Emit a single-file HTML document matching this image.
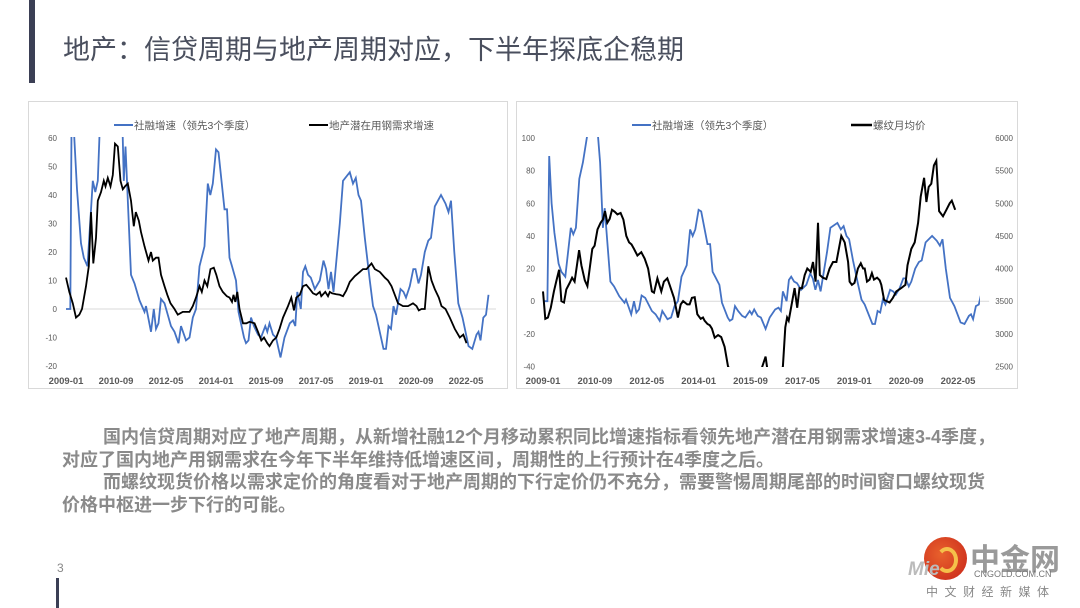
<!DOCTYPE html>
<html><head><meta charset="utf-8">
<style>
body{margin:0;width:1080px;height:608px;background:#fff;position:relative;overflow:hidden;font-family:"Liberation Sans","Noto Sans CJK SC",sans-serif;}
.abs{position:absolute;white-space:nowrap;}
.para{position:absolute;left:62px;font-size:18px;font-weight:bold;color:#8a8a8a;white-space:nowrap;line-height:22.5px;font-family:"Liberation Sans","Noto Sans CJK SC",sans-serif;}
</style></head><body>
<div class="abs" style="left:29px;top:0;width:6px;height:83px;background:#3b3f55"></div>
<div class="abs" style="left:63px;top:28px;font-size:27px;color:#4a4f5e;white-space:nowrap">地产：信贷周期与地产周期对应，下半年探底企稳期</div>

<svg class="abs" style="left:0;top:0" width="1080" height="400">
<defs>
<clipPath id="c1"><rect x="40" y="137" width="460" height="230"/></clipPath>
<clipPath id="c2"><rect x="530" y="137" width="450" height="230"/></clipPath>
</defs>
<rect x="28.5" y="101.5" width="479" height="287" fill="#fff" stroke="#d9d9d9"/>
<rect x="516.5" y="101.5" width="501" height="287" fill="#fff" stroke="#d9d9d9"/>
<g id="g1"></g><g id="g2"></g>
</svg>

<div class="para" style="top:426px">
<div style="padding-left:41px">国内信贷周期对应了地产周期，从新增社融12个月移动累积同比增速指标看领先地产潜在用钢需求增速3-4季度，</div>
<div>对应了国内地产用钢需求在今年下半年维持低增速区间，周期性的上行预计在4季度之后。</div>
<div style="padding-left:41px">而螺纹现货价格以需求定价的角度看对于地产周期的下行定价仍不充分，需要警惕周期尾部的时间窗口螺纹现货</div>
<div>价格中枢进一步下行的可能。</div>
</div>

<div class="abs" style="left:57px;top:561px;font-size:12px;color:#888">3</div>
<div class="abs" style="left:56px;top:578px;width:3px;height:30px;background:#3b3f55"></div>

<div class="abs" style="left:920px;top:537px;width:155px;height:68px">
 <div class="abs" style="left:4px;top:0;width:43px;height:43px;border-radius:50%;background:radial-gradient(circle at 40% 40%,#e8612c,#c8251a)"></div>
 <div class="abs" style="left:16px;top:10px;width:14px;height:18px;border-radius:50%;border:4px solid #f5c04a;border-left-color:transparent"></div>
 <div class="abs" style="left:-12px;top:22px;font-size:19px;font-weight:bold;font-style:italic;color:#bbb">Mie</div>
 <div class="abs" style="left:50px;top:-2px;font-size:30px;font-weight:bold;color:#9a9a9a;letter-spacing:0px">中金网</div>
 <div class="abs" style="left:54px;top:32px;font-size:9px;color:#777">CNGOLD.COM.CN</div>
 <div class="abs" style="left:6px;top:46px;font-size:12px;color:#888;letter-spacing:6.5px">中文财经新媒体</div>
</div>

<script>
const sfMonths=[0,1.7,2.4,3.3,4.4,6,7.1,8.6,10.7,11.7,12.7,14,15.4,17.4,21,22,23.1,23.8,26,27.4,29.4,31.4,32,34,35.1,36,37,38,39.4,42,43.4,45,46,48,49.4,50.7,52,53.4,55.4,56.7,57.7,58.7,60,61,63.4,64.4,65.4,66.4,68,69,71.2,72,73,74,75.2,76.8,78,79.7,80.5,81.4,82.8,84,85.8,87.4,89.5,90.8,91.7,92.5,93.9,94.8,95.7,96.8,97.9,99.5,101.5,103,104,105,106,107,109.5,110.8,113.5,114.8,115.9,117,118,119.5,121.5,122.8,124,127,128,129,130,131,132,133.8,135,136,137.5,138.9,139.8,141,142,143.5,144.9,146,147.5,150,151.8,153,154,155.3,156.9,158.6,161,162.5,164.2,165,165.8,166.9,168,169];
const sfValues=[0,0,89,60,42,23,18,15,45,41,45,75,85,105,105,85,45,57,12,9,3,-1,1,-8,0,-7,-5,3.5,2,-6,-8,-12,-6,-11,-10,-3,0,15,22,44,40,44,56,55,35,35,18,15,10,-1,-10,-12,-11,-3,-6,-9,-10,-6,-8,-5,-9,-10,-17,-10,-5,-4,-6,6,0,13,15,12,11,7,10,17,14,7,13,6,30,45,48,44,46,40,38,25,10,1,-2,-14,-14,-6,-7,1,-2,7,6,4,8,14,14,9,12,20,24,25,36,40,37,34,38,20,2,-3,-13,-14,-9,-8,-11,-3,-2,5];
const stMonths=[0,1.3,2.7,4,5.3,6.4,8,9.1,10,10.9,12,12.7,14,15.1,15.8,16.7,17.8,18.7,19.6,20.7,21.8,22.7,23.6,24.7,26,27.1,27.9,29.1,30,31.4,33,34,34.7,36,37,38,39.4,40.5,41.8,43.4,44.7,46.7,48,49.4,50.7,52,53.4,54.3,55.4,56.5,57.8,59.1,60.1,61.4,62.7,64.3,65.4,66.4,67,67.7,68.5,69.4,70.8,72.1,73.4,75.4,76.8,78.1,79.2,80.5,81.4,82.8,84.1,85.4,86.8,88.8,90.1,91.2,92.1,93.5,94.8,96.1,97.5,98.8,100.1,101.5,102.1,103.7,104.8,105.5,106.4,108.1,109.5,110.8,112.1,113.5,115.5,117.5,118.8,120.2,122.2,123.5,125.5,127.5,128.8,130.2,131.5,132.8,134.8,136.8,138.8,140.2,141.1,142.2,143.5,144.9,146.2,147.5,149.1,150.2,151.8,153.5,155.5,157.5,158.9,160.2];
const stValues=[11,6,2,-3,-2,0,8,15,34,16,25,38,41,45,43,46,43,47,58,57,45,42,43,44,38,29,34,31,27,22,17,20,17,18,18,12,8,5,2,0,-2,-1,-1,-1,1,4,8,6,10,8,14,14.5,12,8,6,4.5,4,2.5,5,2.5,6,0,-5,-5,-4.5,-5,-8,-11,-10,-12,-13,-11,-10,-7,-3,1,4,-0.5,4,5,8,8.5,7,5.5,5,6,4.5,6,4.5,6,5.5,5.2,5,4.5,6.5,9.5,11.5,13,14,14,16,14,13,11,10,8,5,2,1,1,2,1,-0.5,0,0,15,10,7,4,1,0,-3,-7,-10,-9,-12];
const rbMonths=[0,0.9,1.9,3,4.2,5.1,6.2,7.1,8.1,9,10.3,11.2,12.2,13.9,14.8,16.1,17.1,18,19,19.9,21,22.2,23.1,23.9,24.8,25.7,26.6,27.6,28.7,29.9,31,32.1,33.2,34.1,35.1,36.4,37.9,39.2,40.5,42,42.8,44.1,45.6,46.6,47.9,48.8,50.5,52,53.1,54,55.6,56.5,57.4,58.5,59.5,60.8,61.7,62.3,63.4,64.3,65.1,66.2,67.5,68.7,70,71.3,76.5,81.6,85.8,86.5,90.6,92.5,93.4,94.1,94.7,97,98,98.9,99.8,100.9,101.9,103.2,104.1,105.1,106,106.7,107.9,109.2,110.5,111.8,113.1,115,116.3,117.6,118.2,119.1,120.1,121.4,122.5,123.4,124,124.9,125.9,126.8,127.6,128.8,129.8,130.4,131.5,132.4,133.6,134.9,136.2,138.1,139.7,140.5,142,143.3,144.6,145.6,146.9,147.8,148.7,149.7,150.7,151.6,152.7,154.2,155.5,156.8,157.6,158.9];
const rbValues=[3650,3230,3250,3400,3650,3800,3980,3500,3480,3680,3780,3860,3800,4280,4050,3820,3730,4000,4300,4350,4600,4700,4750,4880,4700,4760,4900,4870,4830,4850,4750,4500,4400,4370,4300,4200,4250,4150,4000,3650,3630,3850,3650,3800,3850,3750,3550,3250,3450,3500,3450,3450,3550,3560,3300,3230,3250,3200,3150,3130,3080,2940,2980,2950,2800,2500,2200,2150,2650,2450,2300,2500,3100,3250,3200,3700,3400,3700,3700,3900,4000,3950,4100,3800,4700,3900,3860,3840,4000,4100,4100,4500,4400,4100,3800,3750,3780,4000,4080,4000,4000,3800,3830,3930,3830,3860,3820,3750,3520,3500,3480,3550,3650,3700,3750,4050,4300,4400,4700,5100,5390,5020,5250,5300,5580,5650,4880,4800,4900,5000,5040,4900];
const xTickLabels=["2009-01","2010-09","2012-05","2014-01","2015-09","2017-05","2019-01","2020-09","2022-05"];
const xTickMonths=[0,20,40,60,80,100,120,140,160];
const lTicks=[60,50,40,30,20,10,0,-10,-20];
const rlTicks=[100,80,60,40,20,0,-20,-40];
const rrTicks=[6000,5500,5000,4500,4000,3500,3000,2500];

const NS="http://www.w3.org/2000/svg";
function mk(tag,attrs,parent){const e=document.createElementNS(NS,tag);for(const k in attrs)e.setAttribute(k,attrs[k]);parent.appendChild(e);return e;}
function txt(s,x,y,anchor,parent,size,col){const t=mk("text",{x:x,y:y,"text-anchor":anchor,"font-size":size||9,fill:col||"#595959","font-family":"Liberation Sans, Noto Sans CJK SC, sans-serif"},parent);t.textContent=s;return t;}
function path(xs,ys,fx,fy){return xs.map((m,i)=>(i?"L":"M")+fx(m).toFixed(1)+","+fy(ys[i]).toFixed(1)).join("");}

(function(){
const g=document.getElementById("g1");
const x=m=>66+m*2.5;
const y=v=>309-v*2.85;
const zl=mk("line",{x1:x(0),x2:x(172),y1:y(0),y2:y(0),stroke:"#d9d9d9"},g);


lTicks.forEach(v=>{const t=txt(String(v),57,y(v)+3,"end",g,8);

});
xTickLabels.forEach((s,i)=>{const t=txt(s,x(xTickMonths[i]),384,"middle",g,9.5);
t.setAttribute('font-weight','bold');

});
const cg=mk("g",{"clip-path":"url(#c1)"},g);
const b=mk("path",{d:path(sfMonths,sfValues,x,y),fill:"none",stroke:"#4472c4","stroke-width":1.8},cg);


const k=mk("path",{d:path(stMonths,stValues,x,y),fill:"none",stroke:"#000","stroke-width":1.8},cg);


const l1=mk("line",{x1:114,x2:133,y1:125,y2:125,stroke:"#4472c4","stroke-width":2},g);


txt("社融增速（领先3个季度）",134,129,"start",g,10.5);
const l2=mk("line",{x1:309,x2:328,y1:125,y2:125,stroke:"#000","stroke-width":2},g);


txt("地产潜在用钢需求增速",329,129,"start",g,10.5);
})();

(function(){
const g=document.getElementById("g2");
const x=m=>543+m*2.594;
const y=v=>301.2-v*1.632;
const y2=v=>138-(v-6000)*0.06526;
const zl=mk("line",{x1:x(0),x2:x(172),y1:y(0),y2:y(0),stroke:"#d9d9d9"},g);


rlTicks.forEach(v=>{const t=txt(String(v),535,y(v)+3,"end",g,8);

});
rrTicks.forEach(v=>{const t=txt(String(v),1013,y2(v)+3,"end",g,8);

});
xTickLabels.forEach((s,i)=>{const t=txt(s,x(xTickMonths[i]),384,"middle",g,9.5);
t.setAttribute('font-weight','bold');

});
const cg=mk("g",{"clip-path":"url(#c2)"},g);
const b=mk("path",{d:path(sfMonths,sfValues,x,y),fill:"none",stroke:"#4472c4","stroke-width":1.8},cg);


const k=mk("path",{d:path(rbMonths,rbValues,x,y2),fill:"none",stroke:"#000","stroke-width":2},cg);


const l1=mk("line",{x1:632,x2:651,y1:125,y2:125,stroke:"#4472c4","stroke-width":2},g);


txt("社融增速（领先3个季度）",652,129,"start",g,10.5);
const l2=mk("line",{x1:851,x2:872,y1:125,y2:125,stroke:"#000","stroke-width":2.5},g);


txt("螺纹月均价",873,129,"start",g,10.5);
})();
</script>
</body></html>
